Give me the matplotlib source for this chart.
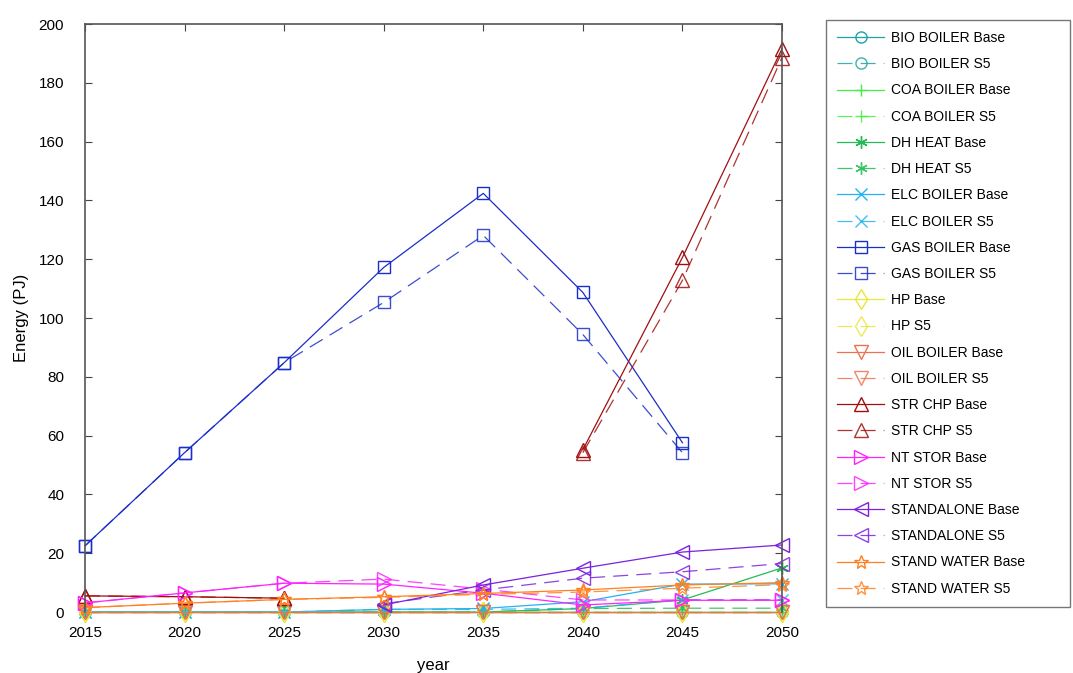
import matplotlib
matplotlib.use('Agg')
import matplotlib.pyplot as plt
import numpy as np

plt.rcParams['font.family'] = ['Liberation Sans', 'DejaVu Sans']

nan = np.nan
years = [2015, 2020, 2025, 2030, 2035, 2040, 2045, 2050]

bio_base = [0, 0, 0, 0, 0, 0, 0, 0]
bio_s5 = [0, 0, 0, 0, 0, 0, 0, 0]
coa_base = [0, 0, 0, 0, 0, 0, 0, 0]
coa_s5 = [0, 0, 0, 0, 0, 0, 0, 0]
dh_base = [0, 0, 0, 0, 0, 1.2, 4.1, 15.0]
dh_s5 = [0, 0, 0, 0, 0, 1.2, 1.3, 1.3]
elc_base = [0, 0, 0, 0.9, 1.2, 3.5, 9.5, 9.6]
elc_s5 = [0, 0, 0, 0.9, 0.9, 1.3, 4.2, 4.2]
gas_base = [22.5, 54.2, 84.8, 117.2, 142.4, 108.7, 57.6, nan]
gas_s5 = [22.5, 54.2, 84.8, 105.3, 128.1, 94.4, 54.2, nan]
hp_base = [0, 0, 0, 0, 0, 0, 0, 0]
hp_s5 = [0, 0, 0, 0, 0, 0, 0, 0]
oil_base = [0, 0, 0, 0, 0, 0, 0, 0]
oil_s5 = [0, 0, 0, 0, 0, 0, 0, 0]
chp_base = [5.5, 5.2, 4.7, nan, nan, 55.2, 120.6, 191.6]
chp_s5 = [5.5, 5.2, 4.7, nan, nan, 54.2, 112.8, 188.6]
nts_base = [3.1, 6.5, 9.8, 9.5, 6.4, 2.4, 4.0, 4.0]
nts_s5 = [3.1, 6.5, 9.8, 11.2, 7.8, 4.1, 4.1, 4.1]
sta_base = [nan, nan, nan, 2.4, 9.2, 14.9, 20.4, 22.8]
sta_s5 = [nan, nan, nan, 2.8, 7.5, 11.5, 13.7, 16.5]
stw_base = [1.5, 3.0, 4.3, 5.2, 6.3, 7.5, 9.2, 10.0]
stw_s5 = [1.5, 3.0, 4.3, 5.0, 6.0, 6.8, 8.1, 9.3]

series = [
    ('BIO BOILER', bio_base, bio_s5, '#1fa3a3', 'o'),
    ('COA BOILER', coa_base, coa_s5, '#44ee44', '+'),
    ('DH HEAT', dh_base, dh_s5, '#22bb55', (6, 2, 0)),
    ('ELC BOILER', elc_base, elc_s5, '#22b4ee', 'x'),
    ('GAS BOILER', gas_base, gas_s5, '#1a2ec8', 's'),
    ('HP', hp_base, hp_s5, '#e8e83a', 'd'),
    ('OIL BOILER', oil_base, oil_s5, '#f07050', 'v'),
    ('STR CHP', chp_base, chp_s5, '#a01010', '^'),
    ('NT STOR', nts_base, nts_s5, '#ff22ff', '>'),
    ('STANDALONE', sta_base, sta_s5, '#7a22dd', '<'),
    ('STAND WATER', stw_base, stw_s5, '#ff8020', '*'),
]

fig = plt.figure(figsize=(10.73, 6.73), dpi=100)
ax = fig.add_axes([0.0792, 0.0906, 0.6496, 0.8737])

for name, base, s5, col, mk in series:
    ms = 10 if mk in ('^', 'v', '<', '>', 'd', '*') else 8
    if mk == (6, 2, 0):
        ms = 9
    ax.plot(years, base, color=col, lw=0.9, marker=mk, ms=ms, clip_on=False,
            mfc='none', mec=col, label=name + ' Base')
    ax.plot(years, s5, color=col, lw=0.9, ls=(0, (12, 6.5)), marker=mk, ms=ms,
            clip_on=False, mfc='none', mec=col, alpha=0.85, label=name + ' S5')

ax.set_xlim(2015, 2050)
ax.set_ylim(0, 200)
ax.set_xticks(range(2015, 2051, 5))
ax.set_yticks(range(0, 201, 20))
ax.tick_params(direction='in', length=5, labelsize=11, top=True, right=True,
               color='#444444')
ax.tick_params(axis='y', pad=15)
ax.tick_params(axis='x', pad=10)
for s in ax.spines.values():
    s.set_color('#555555')
    s.set_linewidth(1.2)
ax.spines['bottom'].set_visible(False)
ax.set_xlabel('year', fontsize=12, labelpad=13)
ax.set_ylabel('Energy (PJ)', fontsize=12, labelpad=7)

leg = ax.legend(loc='upper left', bbox_to_anchor=(1.063, 1.007, 0.35, 0),
                mode='expand', fontsize=10,
                frameon=True, fancybox=False, edgecolor='#555555',
                labelspacing=0.88, handlelength=3.4, borderpad=0.8,
                handletextpad=0.5, borderaxespad=0)
leg.get_frame().set_linewidth(1.0)

fig.savefig('out.png', dpi=100)
